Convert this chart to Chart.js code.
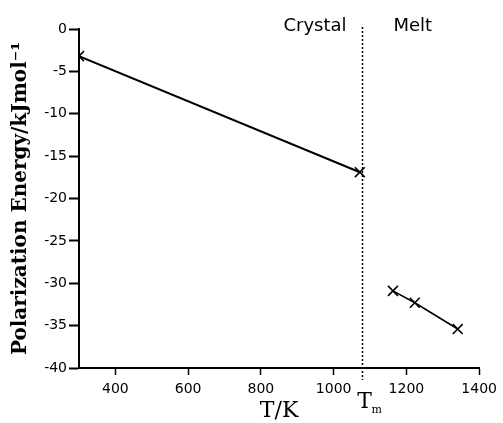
<!DOCTYPE html>
<html lang="en">
<head>
    <meta charset="UTF-8">
    <title>Polarization Energy vs Temperature</title>
    <script src="https://cdn.jsdelivr.net/npm/chart.js"></script>
    <style>
        body {
            margin: 0;
            background-color: #ffffff;
        }
        #wrap {
            width: 503px;
            height: 423px;
            position: relative;
        }
    </style>
</head>
<body>
    <div id="wrap"><canvas id="polChart"></canvas></div>
    <script>
        // Temperature (K) and polarization energy (kJ/mol)
        const crystalT = [300, 1072];
        const crystalE = [-3.2, -16.9];
        const meltT = [1163, 1223, 1341];
        const meltE = [-30.9, -32.3, -35.4];
        const meltingPoint = 1078;

        const xTicks = [400, 600, 800, 1000, 1200, 1400];
        const yTicks = [0, -5, -10, -15, -20, -25, -30, -35, -40];

        const toPoints = (xs, ys) => xs.map((x, i) => ({ x: x, y: ys[i] }));

        // dotted melting line plus the phase labels
        const phasePlugin = {
            id: 'phase',
            afterDraw(chart) {
                const ctx = chart.ctx;
                const xs = chart.scales.x;
                const area = chart.chartArea;
                const px = Math.round(xs.getPixelForValue(meltingPoint)) + 0.5;

                ctx.save();
                ctx.strokeStyle = '#000';
                ctx.lineWidth = 1.5;
                ctx.setLineDash([2, 2]);
                ctx.beginPath();
                ctx.moveTo(px, area.top - 2);
                ctx.lineTo(px, area.bottom + 12);
                ctx.stroke();
                ctx.setLineDash([]);

                ctx.fillStyle = '#000';
                ctx.font = '18px "DejaVu Sans"';
                ctx.textBaseline = 'alphabetic';
                ctx.textAlign = 'right';
                ctx.fillText('Crystal', px - 16, area.top + 2);
                ctx.textAlign = 'left';
                ctx.fillText('Melt', px + 31, area.top + 2);

                // T with subscript m under the axis
                ctx.font = '22px "DejaVu Serif"';
                ctx.textAlign = 'center';
                ctx.fillText('T', px + 2, area.bottom + 40);
                ctx.font = '11px "DejaVu Serif"';
                ctx.textAlign = 'left';
                ctx.fillText('m', px + 9, area.bottom + 45);
                ctx.restore();
            }
        };

        const ctx = document.getElementById('polChart').getContext('2d');
        const chart = new Chart(ctx, {
            type: 'scatter',
            data: {
                datasets: [
                    {
                        label: 'Crystal',
                        data: toPoints(crystalT, crystalE),
                        showLine: true,
                        borderColor: '#000',
                        backgroundColor: '#000',
                        borderWidth: 2,
                        pointStyle: 'crossRot',
                        pointRadius: 7,
                        pointBorderWidth: 1.6
                    },
                    {
                        label: 'Melt',
                        data: toPoints(meltT, meltE),
                        showLine: true,
                        borderColor: '#000',
                        backgroundColor: '#000',
                        borderWidth: 1.6,
                        pointStyle: 'crossRot',
                        pointRadius: 7,
                        pointBorderWidth: 1.6
                    }
                ]
            },
            options: {
                responsive: true,
                maintainAspectRatio: false,
                animation: false,
                events: [],
                layout: {
                    padding: { top: 29, right: 19, left: 0, bottom: 0 }
                },
                plugins: {
                    legend: { display: false },
                    tooltip: { enabled: false }
                },
                scales: {
                    x: {
                        type: 'linear',
                        min: 300,
                        max: 1400,
                        afterBuildTicks: (scale) => {
                            scale.ticks = xTicks.map(v => ({ value: v }));
                        },
                        afterFit: (scale) => { scale.height = 55; },
                        grid: {
                            drawOnChartArea: false,
                            color: '#000',
                            tickLength: 7,
                            tickWidth: 1.5
                        },
                        border: { display: true, color: '#000', width: 2 },
                        ticks: {
                            color: '#000',
                            padding: 6,
                            maxRotation: 0,
                            callback: (v) => String(v),
                            font: { family: 'DejaVu Sans', size: 14 }
                        },
                        title: {
                            display: true,
                            text: 'T/K',
                            color: '#000',
                            font: { family: 'DejaVu Serif', size: 22, lineHeight: 1.2 },
                            padding: { top: 0, bottom: -1 }
                        }
                    },
                    y: {
                        type: 'linear',
                        min: -40,
                        max: 0,
                        afterBuildTicks: (scale) => {
                            scale.ticks = yTicks.map(v => ({ value: v }));
                        },
                        afterFit: (scale) => { scale.width = 79; },
                        grid: {
                            drawOnChartArea: false,
                            color: '#000',
                            tickLength: 10,
                            tickWidth: 2
                        },
                        border: { display: true, color: '#000', width: 2 },
                        ticks: {
                            color: '#000',
                            padding: 2,
                            callback: (v) => String(v),
                            font: { family: 'DejaVu Sans', size: 14 }
                        },
                        title: {
                            display: true,
                            text: 'Polarization Energy/kJmol⁻¹',
                            color: '#000',
                            font: { family: 'DejaVu Serif', size: 20, weight: 'bold', lineHeight: 1.2 },
                            padding: { top: 9, bottom: 0 }
                        }
                    }
                }
            },
            plugins: [phasePlugin]
        });
    </script>
</body>
</html>
